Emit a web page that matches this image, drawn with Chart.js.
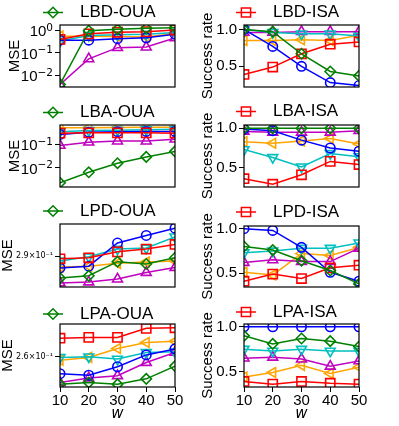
<!DOCTYPE html>
<html>
<head>
<meta charset="utf-8">
<script src="https://cdn.jsdelivr.net/npm/chart.js@4.4.0/dist/chart.umd.min.js"></script>
<style>
  html, body { margin: 0; padding: 0; background: #fff; }
  body { width: 399px; height: 426px; position: relative; overflow: hidden; }
  .cell { position: absolute; }
  .cell canvas { display: block; }
</style>
</head>
<body>
<script>
// window sizes w on the x axis
const W = [10, 20, 30, 40, 50];

// every panel: rows are green, red, blue, cyan, magenta, orange
const LBD_OUA = [
  [0.0042, 0.93, 1.07, 1.19, 1.27],
  [0.39, 0.68, 0.80, 0.85, 1.0],
  [0.36, 0.36, 0.42, 0.46, 0.66],
  [0.33, 0.58, 0.62, 0.66, 0.78],
  [0.0042, 0.055, 0.17, 0.18, 0.45],
  [0.54, 0.54, 0.52, 0.50, 0.70]
];
const LBD_ISA = [
  [1.0, 0.97, 0.67, 0.43, 0.37],
  [0.39, 0.49, 0.67, 0.80, 0.83],
  [1.0, 0.77, 0.50, 0.28, 0.24],
  [1.0, 0.96, 0.94, 0.94, 0.91],
  [0.96, 0.96, 0.97, 0.97, 0.97],
  [0.85, 0.85, 0.86, 0.85, 0.92]
];
const LBA_OUA = [
  [0.0023, 0.0065, 0.016, 0.030, 0.052],
  [0.32, 0.33, 0.33, 0.33, 0.32],
  [0.28, 0.35, 0.37, 0.38, 0.38],
  [0.37, 0.42, 0.43, 0.45, 0.47],
  [0.094, 0.13, 0.145, 0.145, 0.175],
  [0.55, 0.55, 0.56, 0.57, 0.57]
];
const LBA_ISA = [
  [1.0, 1.0, 1.0, 1.0, 1.0],
  [0.36, 0.29, 0.41, 0.58, 0.54],
  [0.99, 0.97, 0.85, 0.75, 0.71],
  [0.73, 0.63, 0.51, 0.68, 0.64],
  [0.96, 0.95, 0.95, 0.95, 0.97],
  [0.83, 0.81, 0.84, 0.87, 0.80]
];
const LPD_OUA = [
  [0.2771, 0.2784, 0.2867, 0.2853, 0.2890],
  [0.2884, 0.2890, 0.2926, 0.2943, 0.2971],
  [0.2830, 0.2840, 0.2980, 0.3027, 0.3073],
  [0.2871, 0.2896, 0.2943, 0.2949, 0.3018],
  [0.2743, 0.2748, 0.2765, 0.2803, 0.2832],
  [0.2836, 0.2840, 0.2857, 0.2865, 0.2871]
];
const LPD_ISA = [
  [0.80, 0.76, 0.64, 0.53, 0.38],
  [0.41, 0.49, 0.44, 0.56, 0.59],
  [1.0, 0.98, 0.79, 0.51, 0.41],
  [0.73, 0.75, 0.78, 0.78, 0.84],
  [0.62, 0.65, 0.63, 0.63, 0.78],
  [0.51, 0.48, 0.72, 0.70, 0.79]
];
const LPA_OUA = [
  [0.2472, 0.2480, 0.2472, 0.2497, 0.2556],
  [0.2690, 0.2694, 0.2694, 0.2739, 0.2742],
  [0.2521, 0.2514, 0.2553, 0.2609, 0.2638],
  [0.2597, 0.2600, 0.2589, 0.2621, 0.2624],
  [0.2480, 0.2501, 0.2511, 0.2573, 0.2621],
  [0.2584, 0.2597, 0.2640, 0.2669, 0.2675]
];
const LPA_ISA = [
  [0.90, 0.81, 0.87, 0.84, 0.78],
  [0.39, 0.36, 0.39, 0.37, 0.36],
  [1.0, 1.0, 1.0, 1.0, 1.0],
  [0.75, 0.73, 0.75, 0.73, 0.73],
  [0.65, 0.66, 0.64, 0.56, 0.62],
  [0.44, 0.49, 0.57, 0.48, 0.55]
];

// marker / colour per row
const SERIES = [
  { color: '#008000', style: 'rectRot', rot: 0, r: 5.2 },
  { color: '#ff0000', style: 'rect', rot: 0, r: 6.5 },
  { color: '#0000ff', style: 'circle', rot: 0, r: 4.7 },
  { color: '#00bfbf', style: 'triangle', rot: 180, r: 5.7 },
  { color: '#bf00bf', style: 'triangle', rot: 0, r: 5.7 },
  { color: '#ffa500', style: 'triangle', rot: -90, r: 5.7 }
];

const SANS = '"Liberation Sans", Arial, sans-serif';
const MATH = '"DejaVu Sans", sans-serif';

const PANELS = [
  { name: 'LBD-OUA', data: LBD_OUA, mark: 0, kind: 'log', min: 0.00324, max: 1.66, left: 0, top: 0, h: 100, T: 25, Hx: 13, ly: 12.5, tp: 7.5 },
  { name: 'LBD-ISA', data: LBD_ISA, mark: 1, kind: 'rate', min: 0.22, max: 1.06, left: 200, top: 0, h: 100, T: 25, Hx: 13, ly: 12.5, tp: 0 },
  { name: 'LBA-OUA', data: LBA_OUA, mark: 0, kind: 'log', min: 0.0015, max: 0.72, left: 0, top: 100, h: 100, T: 25, Hx: 13, ly: 12.5, tp: 7.5 },
  { name: 'LBA-ISA', data: LBA_ISA, mark: 1, kind: 'rate', min: 0.255, max: 1.042, left: 200, top: 100, h: 100, T: 25, Hx: 13, ly: 11.5, tp: 0 },
  { name: 'LPD-OUA', data: LPD_OUA, mark: 0, kind: 'one', tick: 0.29, min: 0.2723, max: 0.31, left: 0, top: 200, h: 100, T: 24, Hx: 13, ly: 11, tp: 0 },
  { name: 'LPD-ISA', data: LPD_ISA, mark: 1, kind: 'rate', min: 0.345, max: 1.03, left: 200, top: 200, h: 100, T: 26, Hx: 13, ly: 12, tp: 0 },
  { name: 'LPA-OUA', data: LPA_OUA, mark: 0, kind: 'one', tick: 0.26, min: 0.2461, max: 0.2761, left: 0, top: 300, h: 126, T: 24, Hx: 39, ly: 14, tp: 0, bottom: true },
  { name: 'LPA-ISA', data: LPA_ISA, mark: 1, kind: 'rate', min: 0.328, max: 1.032, left: 200, top: 300, h: 126, T: 24, Hx: 39, ly: 12, tp: 0, bottom: true }
];

// black box round the plot area
const frame = {
  id: 'frame',
  afterDatasetsDraw(chart) {
    const a = chart.chartArea, ctx = chart.ctx;
    ctx.save();
    ctx.strokeStyle = '#000';
    ctx.lineWidth = 1.2;
    ctx.strokeRect(a.left, a.top, a.right - a.left, a.bottom - a.top);
    ctx.restore();
  }
};

// 10^n labels with a raised exponent, like matplotlib's log axis
const powLabels = {
  id: 'powLabels',
  afterDraw(chart) {
    if (!chart.options.plugins.powLabels.on) return;
    const sc = chart.scales.y, ctx = chart.ctx;
    const xr = chart.chartArea.left - 7;
    ctx.save();
    ctx.fillStyle = '#000';
    sc.ticks.forEach(t => {
      const y = sc.getPixelForValue(t.value);
      const e = Math.round(Math.log10(t.value));
      const exp = e < 0 ? '\u2212' + (-e) : String(e);
      ctx.font = '10.5px ' + MATH;
      const ew = ctx.measureText(exp).width;
      ctx.textAlign = 'left';
      ctx.textBaseline = 'alphabetic';
      ctx.fillText(exp, xr - ew, y + 0.5);
      ctx.font = '15px ' + SANS;
      ctx.textAlign = 'right';
      ctx.textBaseline = 'middle';
      ctx.fillText('10', xr - ew, y + 1.5);
    });
    ctx.restore();
  }
};

// one-entry legend: line + hollow marker + name
const legendMark = {
  id: 'legendMark',
  afterDraw(chart) {
    const o = chart.options.plugins.legendMark;
    const s = SERIES[o.mark];
    const ctx = chart.ctx;
    ctx.save();
    ctx.strokeStyle = s.color;
    ctx.lineWidth = 1.5;
    ctx.beginPath();
    ctx.moveTo(o.x, o.y);
    ctx.lineTo(o.x + 20, o.y);
    ctx.stroke();
    ctx.fillStyle = 'rgba(0,0,0,0)';
    Chart.helpers.drawPoint(ctx, { pointStyle: s.style, rotation: s.rot, radius: s.r, borderWidth: 1.5 }, o.x + 10, o.y);
    ctx.fillStyle = '#000';
    ctx.font = '17px ' + SANS;
    ctx.textAlign = 'left';
    ctx.textBaseline = 'middle';
    ctx.fillText(o.text, o.x + 37, o.y);
    ctx.restore();
  }
};

PANELS.forEach(p => {
  const right = p.left === 200;
  const cw = right ? 199 : 200;
  const div = document.createElement('div');
  div.className = 'cell';
  div.style.left = p.left + 'px';
  div.style.top = p.top + 'px';
  const cv = document.createElement('canvas');
  cv.width = cw;
  cv.height = p.h;
  div.appendChild(cv);
  document.body.appendChild(div);

  const datasets = p.data.map((vals, i) => ({
    data: W.map((x, j) => ({ x: x, y: vals[j] })),
    borderColor: SERIES[i].color,
    borderWidth: 1.5,
    pointStyle: SERIES[i].style,
    pointRotation: SERIES[i].rot,
    pointRadius: SERIES[i].r,
    pointBorderColor: SERIES[i].color,
    pointBackgroundColor: 'rgba(0,0,0,0)',
    pointBorderWidth: 1.6,
    tension: 0,
    clip: 0,
    fill: false
  }));

  let yScale;
  if (p.kind === 'rate') {
    yScale = {
      type: 'linear',
      min: p.min, max: p.max,
      afterBuildTicks: s => { s.ticks = [{ value: 0.5 }, { value: 1.0 }]; },
      ticks: { callback: v => v.toFixed(1), font: { family: SANS, size: 15 }, color: '#000', padding: 2 }
    };
  } else if (p.kind === 'log') {
    yScale = {
      type: 'logarithmic',
      min: p.min, max: p.max,
      afterBuildTicks: s => {
        s.ticks = [1, 0.1, 0.01].filter(v => v >= s.min && v <= s.max).map(v => ({ value: v }));
      },
      ticks: { callback: () => '', font: { family: SANS, size: 15 }, color: '#000', padding: 2 }
    };
  } else {
    yScale = {
      type: 'logarithmic',
      min: p.min, max: p.max,
      afterBuildTicks: s => { s.ticks = [{ value: p.tick }]; },
      ticks: {
        callback: v => (v * 10).toFixed(1) + '×10⁻¹',
        font: { family: MATH, size: 8 }, color: '#000', padding: 2
      }
    };
  }
  Object.assign(yScale, {
    afterFit: s => { s.width = right ? 44 : 60; },
    grid: { display: true, drawOnChartArea: false, drawTicks: true, tickLength: 5, color: '#000', lineWidth: 1 },
    border: { display: false },
    title: {
      display: true,
      text: right ? 'Success rate' : 'MSE',
      font: { family: SANS, size: 15, lineHeight: 1 },
      color: '#000',
      padding: { top: p.tp, bottom: 0 }
    }
  });

  const xScale = {
    type: 'linear',
    min: 10, max: 50,
    afterFit: s => { s.height = p.Hx; },
    border: { display: false },
    grid: p.bottom
      ? { display: true, drawOnChartArea: false, drawTicks: true, tickLength: 5, color: '#000', lineWidth: 1 }
      : { display: false },
    ticks: {
      display: !!p.bottom,
      stepSize: 10,
      font: { family: SANS, size: 15 },
      color: '#000',
      padding: 0
    },
    title: {
      display: !!p.bottom,
      text: 'w',
      font: { family: MATH, size: 15, style: 'italic', lineHeight: 1 },
      color: '#000',
      padding: { top: 0, bottom: 4 }
    }
  };

  new Chart(cv, {
    type: 'line',
    data: { datasets: datasets },
    options: {
      responsive: false,
      animation: false,
      events: [],
      layout: { padding: { top: p.T, right: right ? 40 : 25, left: 0, bottom: 0 } },
      scales: { x: xScale, y: yScale },
      plugins: {
        legend: { display: false },
        tooltip: { enabled: false },
        powLabels: { on: p.kind === 'log' },
        legendMark: { mark: p.mark, text: p.name, x: right ? 36 : 43, y: p.ly }
      }
    },
    plugins: [frame, powLabels, legendMark]
  });
});
</script>
</body>
</html>
